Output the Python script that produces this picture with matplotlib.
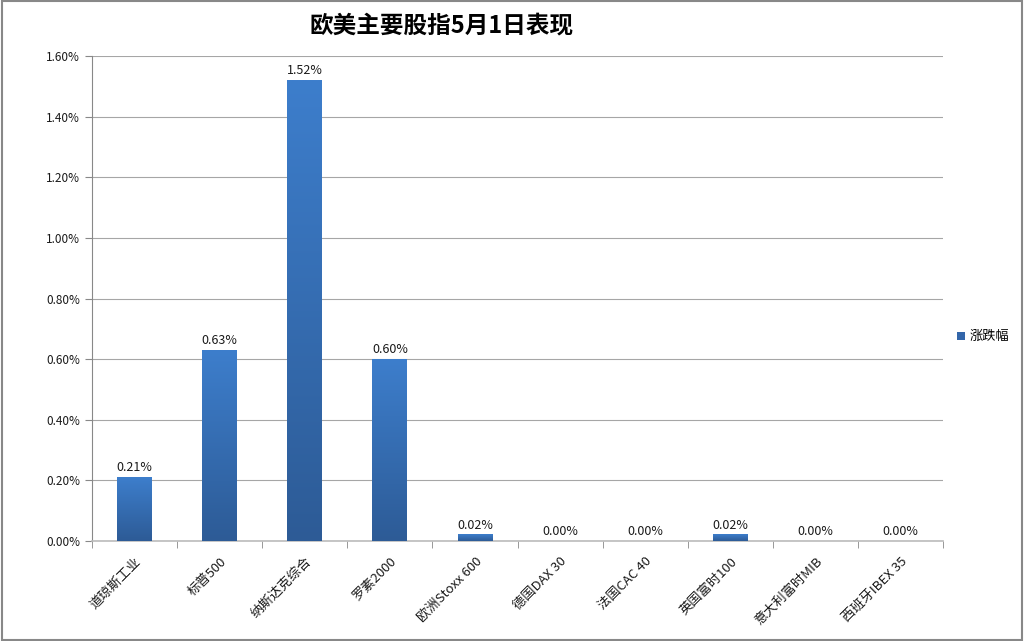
import numpy as np
import matplotlib
matplotlib.use("Agg")
import matplotlib.pyplot as plt
from matplotlib.colors import LinearSegmentedColormap
from matplotlib.patches import Rectangle
from matplotlib.ticker import FuncFormatter, MultipleLocator

plt.rcParams['font.family'] = ['Noto Sans CJK SC', 'DejaVu Sans']

# 数据
categories = ['道琼斯工业', '标普500', '纳斯达克综合', '罗素2000', '欧洲Stoxx 600',
              '德国DAX 30', '法国CAC 40', '英国富时100', '意大利富时MIB', '西班牙IBEX 35']
values = [0.21, 0.63, 1.52, 0.60, 0.02, 0.00, 0.00, 0.02, 0.00, 0.00]  # 单位 %
series_name = '涨跌幅'
title = '欧美主要股指5月1日表现'

fig = plt.figure(figsize=(10.24, 6.41), dpi=100)
ax = fig.add_axes([92 / 1024, 1 - 541 / 641, (943 - 92) / 1024, (541 - 56) / 641])

cmap = LinearSegmentedColormap.from_list('bar', ['#2D5B96', '#3D7ECC'])
grad = np.linspace(0, 1, 256).reshape(-1, 1)
x = np.arange(len(categories))
w = 0.41
for xi, v in zip(x, values):
    if v > 0:
        ax.imshow(grad, extent=(xi - w / 2, xi + w / 2, 0, v), origin='lower',
                  cmap=cmap, aspect='auto', zorder=3)
    ax.text(xi, v + 0.01, '%.2f%%' % v, ha='center', va='bottom', fontsize=9,
            color='#1A1A1A', zorder=4)

ax.set_xlim(-0.5, len(categories) - 0.5)
ax.set_ylim(0, 1.6)
ax.yaxis.set_major_locator(MultipleLocator(0.2))
ax.yaxis.set_major_formatter(FuncFormatter(lambda v, p: '%.2f%%' % v))
ax.grid(axis='y', color='#A6A6A6', linewidth=0.8, zorder=0)
ax.set_axisbelow(True)

ax.set_xticks(x)
ax.set_xticklabels(categories, rotation=45, ha='right', rotation_mode='anchor',
                   fontsize=9.5, color='#1A1A1A')
ax.tick_params(axis='x', length=0, pad=10)
ax.set_xticks(np.arange(-0.5, len(categories) + 0.5, 1), minor=True)
ax.tick_params(axis='x', which='minor', length=5, color='#888888')
ax.tick_params(axis='y', length=5, color='#888888', labelsize=8.5, labelcolor='#1A1A1A')

for s in ['top', 'right']:
    ax.spines[s].set_visible(False)
ax.spines['left'].set_color('#888888')
ax.spines['bottom'].set_color('#BBBBBB')
ax.spines['bottom'].set_linewidth(1.2)

fig.text(442 / 1024, 1 - 25 / 641, title, ha='center', va='center',
         fontsize=17, fontweight='bold', color='#000000')

# 图例
fig.patches.append(Rectangle((957 / 1024, 1 - 340 / 641), 8 / 1024, 8 / 641,
                             transform=fig.transFigure, facecolor='#3366AA',
                             edgecolor='none'))
fig.text(970 / 1024, 1 - 336 / 641, series_name, ha='left', va='center', fontsize=9.5)

# 外框
fig.patches.append(Rectangle((0.002, 0.002), 0.996, 0.996, transform=fig.transFigure,
                             facecolor='none', edgecolor='#888888', linewidth=1.5))

fig.savefig('out.png', dpi=100)
